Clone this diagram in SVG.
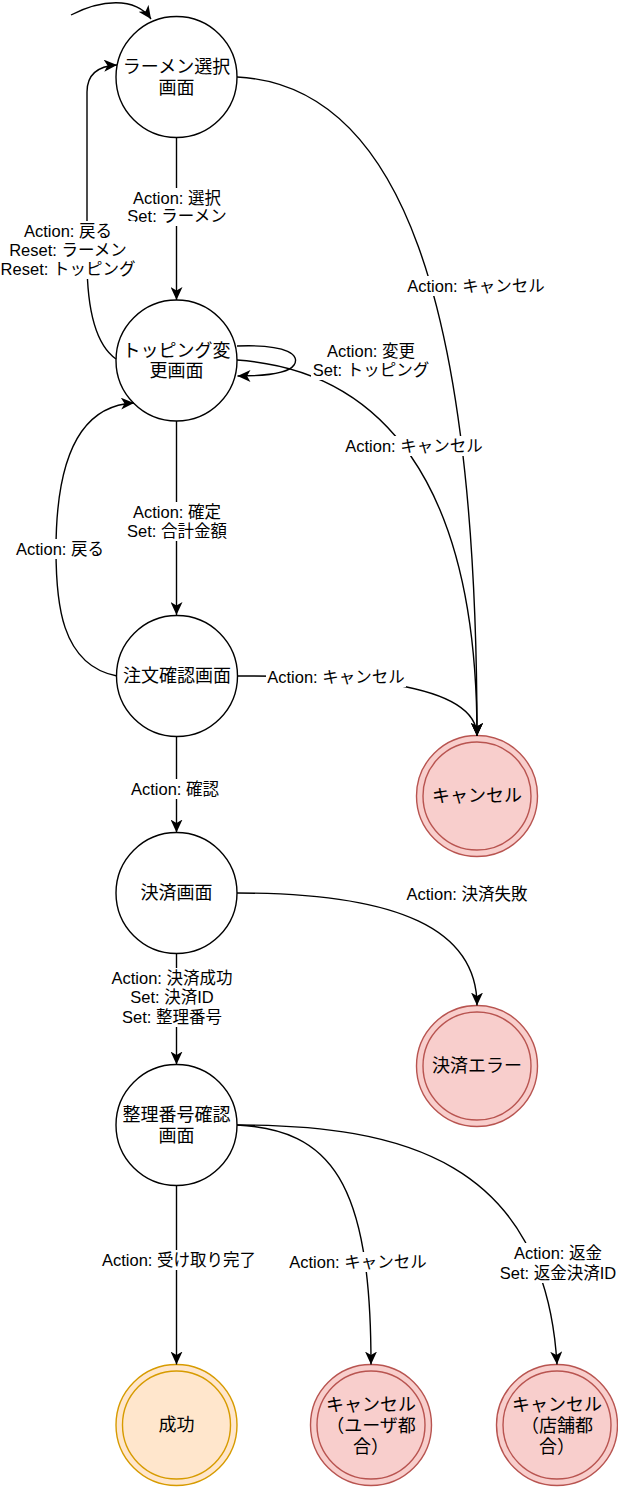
<svg xmlns="http://www.w3.org/2000/svg" width="618" height="1487" viewBox="0 0 618 1487">
<style>
.st{fill:#fff;stroke:#000;stroke-width:1.4}
.red{fill:#f8cecc;stroke:#b85450;stroke-width:1.4}
.org{fill:#ffe6cc;stroke:#d79b00;stroke-width:1.4}
.nt{font-family:"Liberation Sans","Noto Sans CJK JP",sans-serif;font-size:18px;fill:#000;text-anchor:middle;dominant-baseline:central}
.e{fill:none;stroke:#000;stroke-width:1.4;marker-end:url(#arr)}
.lb{fill:#fff;stroke:none}
.lt{font-family:"Liberation Sans","Noto Sans CJK JP",sans-serif;font-size:16.5px;fill:#000;text-anchor:middle;dominant-baseline:central}
</style>
<defs>
<marker id="arr" viewBox="0 0 14 12" refX="13" refY="6" markerWidth="14" markerHeight="12" markerUnits="userSpaceOnUse" orient="auto">
<path d="M0,0 L13,6 L0,12 L3.5,6 Z" fill="#000"/>
</marker>
</defs>
<rect width="618" height="1487" fill="#fff"/>

<g id="nodes">
<g id="n-ramen"><circle class="st" cx="176.5" cy="77" r="60.5"/><text class="nt" x="176.5" y="67">ラーメン選択</text><text class="nt" x="176.5" y="88">画面</text></g>
<g id="n-topping"><circle class="st" cx="176.5" cy="360.5" r="60.5"/><text class="nt" x="176.5" y="351">トッピング変</text><text class="nt" x="176.5" y="371">更画面</text></g>
<g id="n-order"><circle class="st" cx="177" cy="676" r="60.5"/><text class="nt" x="177" y="676">注文確認画面</text></g>
<g id="n-pay"><circle class="st" cx="176.5" cy="893" r="60.5"/><text class="nt" x="176.5" y="893">決済画面</text></g>
<g id="n-number"><circle class="st" cx="176.5" cy="1125" r="60.5"/><text class="nt" x="176.5" y="1115">整理番号確認</text><text class="nt" x="176.5" y="1136">画面</text></g>
<g id="n-cancel"><circle class="red" cx="477" cy="796" r="60.5"/><circle class="red" cx="477" cy="796" r="54"/><text class="nt" x="477" y="796">キャンセル</text></g>
<g id="n-payerr"><circle class="red" cx="477" cy="1066" r="60.5"/><circle class="red" cx="477" cy="1066" r="54"/><text class="nt" x="477" y="1066">決済エラー</text></g>
<g id="n-success"><circle class="org" cx="176.5" cy="1425" r="60.5"/><circle class="org" cx="176.5" cy="1425" r="54"/><text class="nt" x="176.5" y="1425">成功</text></g>
<g id="n-cancel-user"><circle class="red" cx="371" cy="1425" r="60.5"/><circle class="red" cx="371" cy="1425" r="54"/><text class="nt" x="371" y="1405">キャンセル</text><text class="nt" x="371" y="1426">（ユーザ都</text><text class="nt" x="371" y="1447">合）</text></g>
<g id="n-cancel-shop"><circle class="red" cx="557" cy="1425" r="60.5"/><circle class="red" cx="557" cy="1425" r="54"/><text class="nt" x="557" y="1405">キャンセル</text><text class="nt" x="557" y="1426">（店舗都</text><text class="nt" x="557" y="1447">合）</text></g>
</g>

<g id="connectors">
<path class="e" d="M71,15 C100,0 135,-4 151,19"/>
<path class="e" d="M176.5,137.5 L176.5,300"/>
<path class="e" d="M116,359 C92,342 87,300 87,260 L87,92 C87,74 98,66 117,65"/>
<path class="e" d="M237,77 C400,85 477,300 477,736"/>
<path class="e" d="M237,346 C290,344 300,356 294,365 C288,374 265,376 237.5,376"/>
<path class="e" d="M237,360 C380,370 477,480 477,736"/>
<path class="e" d="M176.5,421 L176.5,615"/>
<path class="e" d="M117,676 C60,665 56,600 56,550 C56,440 90,405 134,403"/>
<path class="e" d="M237.5,676 C340,676 477,680 477,736"/>
<path class="e" d="M176.5,736.5 L176.5,832.5"/>
<path class="e" d="M237,893 C400,893 477,930 477,1005.5"/>
<path class="e" d="M176.5,953.5 L176.5,1064.5"/>
<path class="e" d="M176.5,1185.5 L176.5,1364.5"/>
<path class="e" d="M237,1125 C330,1130 371,1180 371,1364.5"/>
<path class="e" d="M237,1125 C400,1125 545,1160 557,1364.5"/>

<g id="labels">
<rect class="lb" x="127" y="188" width="100" height="38"/>
<text class="lt" x="177" y="198">Action: 選択</text>
<text class="lt" x="177" y="216">Set: ラーメン</text>

<rect class="lb" x="1" y="221" width="134" height="58"/>
<text class="lt" x="68" y="231">Action: 戻る</text>
<text class="lt" x="68" y="250">Reset: ラーメン</text>
<text class="lt" x="68" y="269">Reset: トッピング</text>

<rect class="lb" x="406" y="276" width="140" height="20"/>
<text class="lt" x="476" y="286">Action: キャンセル</text>

<rect class="lb" x="311" y="341" width="120" height="39"/>
<text class="lt" x="371" y="351">Action: 変更</text>
<text class="lt" x="371" y="370">Set: トッピング</text>

<rect class="lb" x="344" y="436" width="140" height="20"/>
<text class="lt" x="414" y="446">Action: キャンセル</text>

<rect class="lb" x="125" y="502" width="104" height="39"/>
<text class="lt" x="177" y="512">Action: 確定</text>
<text class="lt" x="177" y="531">Set: 合計金額</text>

<rect class="lb" x="14" y="539" width="92" height="20"/>
<text class="lt" x="60" y="549">Action: 戻る</text>

<rect class="lb" x="266" y="667" width="140" height="20"/>
<text class="lt" x="336" y="677">Action: キャンセル</text>

<rect class="lb" x="129" y="779" width="92" height="20"/>
<text class="lt" x="175" y="789">Action: 確認</text>

<rect class="lb" x="406" y="884" width="124" height="20"/>
<text class="lt" x="467" y="894">Action: 決済失敗</text>

<rect class="lb" x="110" y="968" width="124" height="59"/>
<text class="lt" x="172" y="978">Action: 決済成功</text>
<text class="lt" x="172" y="997">Set: 決済ID</text>
<text class="lt" x="172" y="1017">Set: 整理番号</text>

<rect class="lb" x="101" y="1250" width="156" height="20"/>
<text class="lt" x="179" y="1260">Action: 受け取り完了</text>

<rect class="lb" x="288" y="1252" width="140" height="20"/>
<text class="lt" x="358" y="1262">Action: キャンセル</text>

<rect class="lb" x="499" y="1243" width="118" height="40"/>
<text class="lt" x="558" y="1253">Action: 返金</text>
<text class="lt" x="558" y="1273">Set: 返金決済ID</text>
</g>
</g>
</svg>
